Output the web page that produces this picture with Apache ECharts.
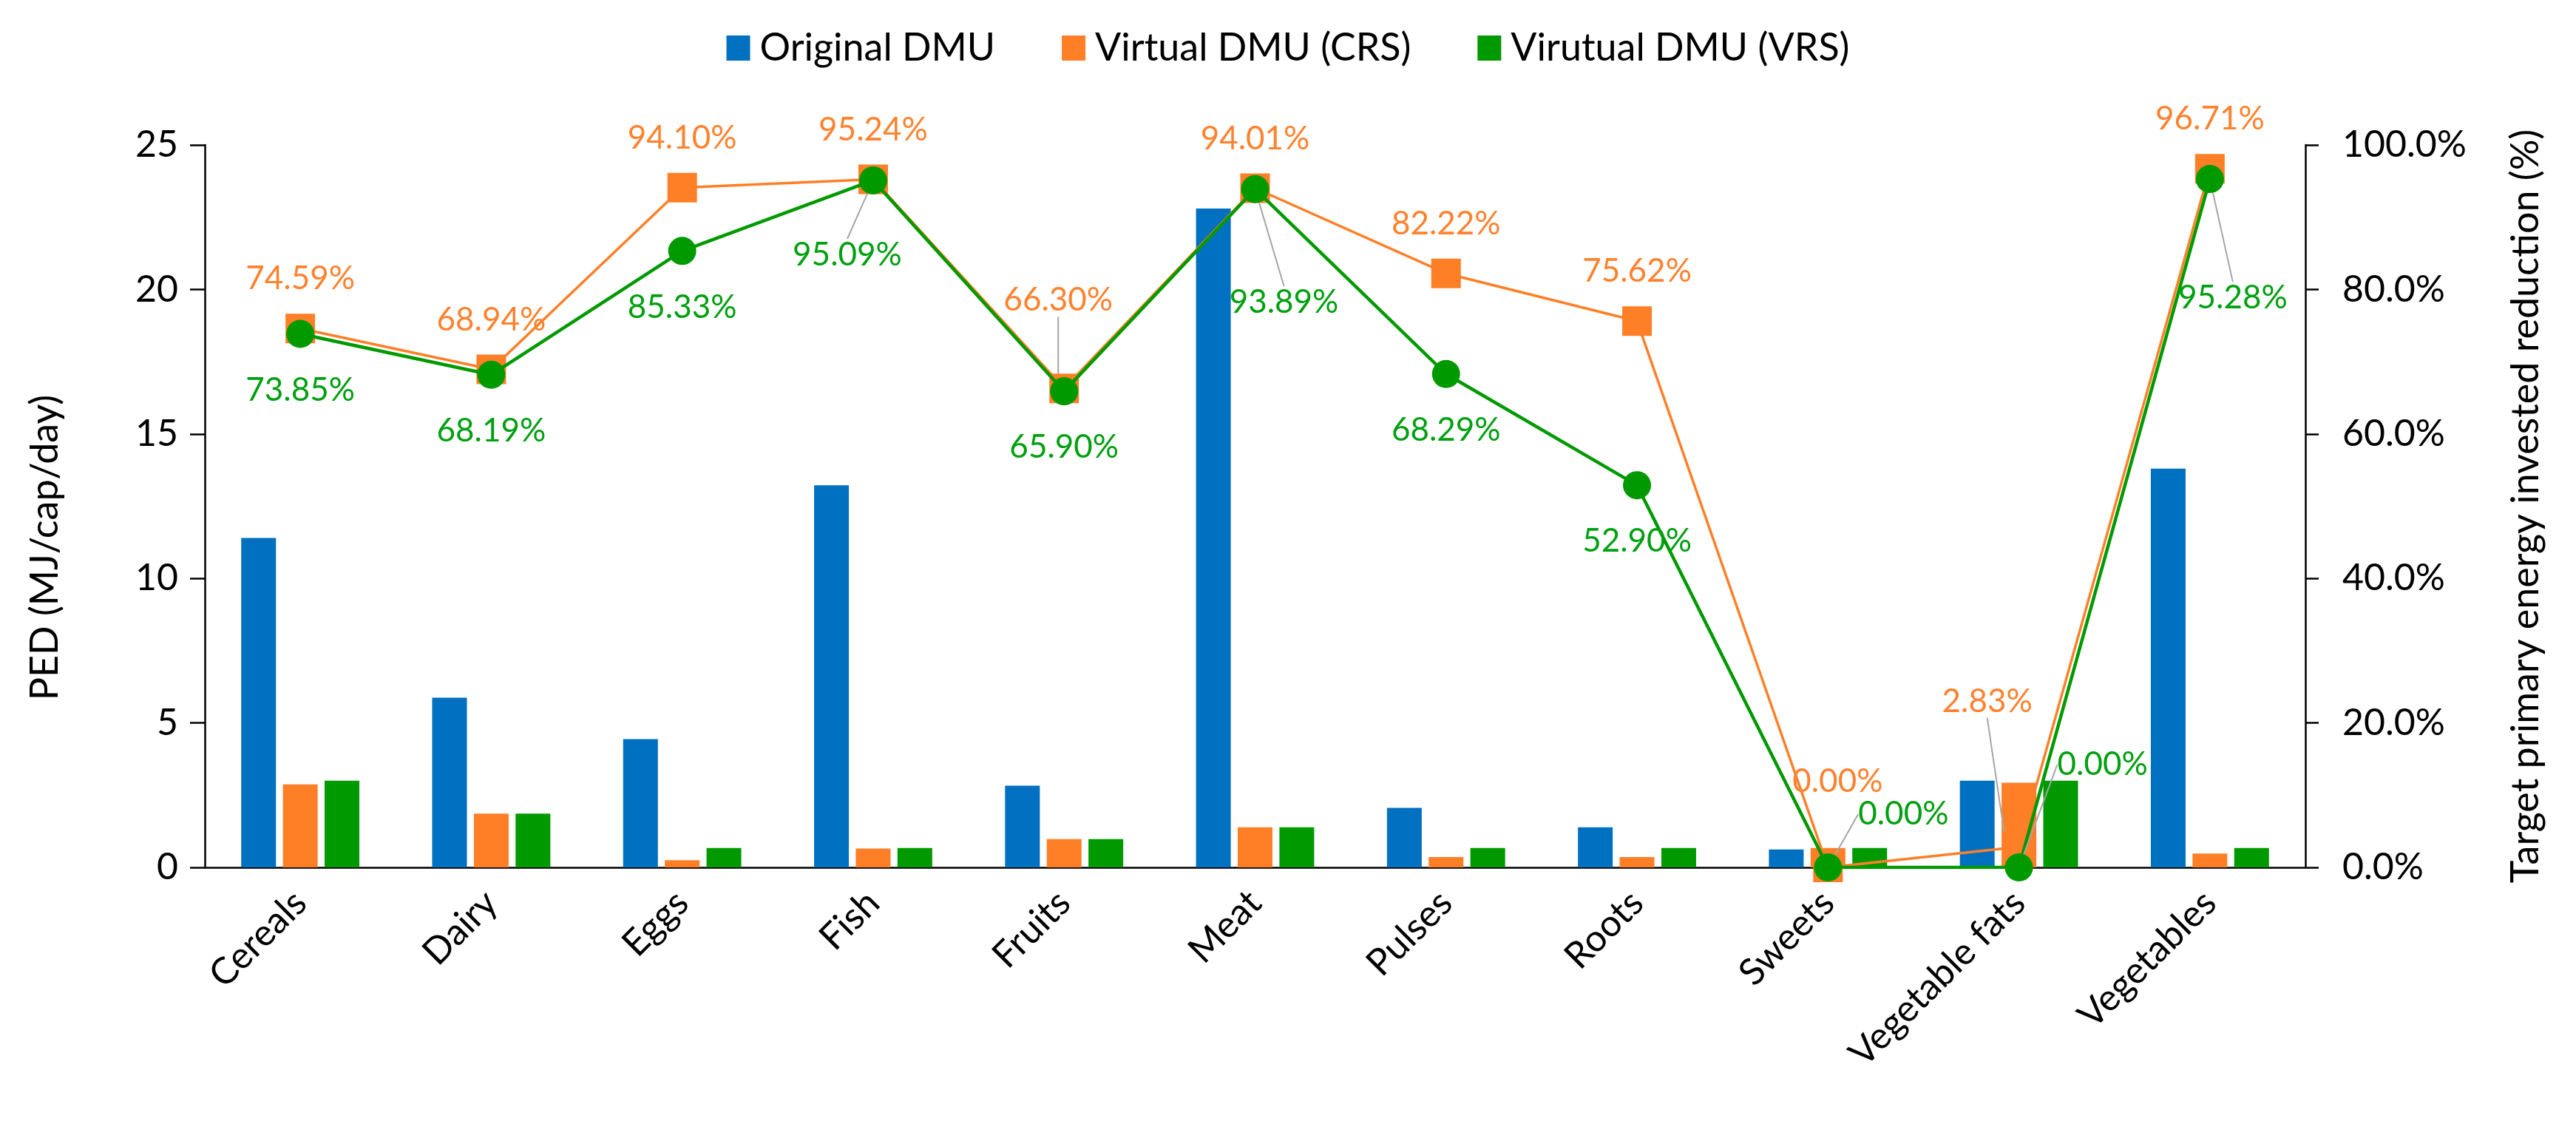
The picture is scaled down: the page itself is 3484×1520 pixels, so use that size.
<!DOCTYPE html>
<html>
<head>
<meta charset="utf-8">
<script src="https://cdn.jsdelivr.net/npm/echarts@6/dist/echarts.min.js"></script>
<style>
  html, body { margin: 0; padding: 0; background: #fff; }
  #main { width: 3484px; height: 1520px; }
</style>
</head>
<body>
<div id="main"></div>
<script>
// 类别
const categories = ['Cereals', 'Dairy', 'Eggs', 'Fish', 'Fruits', 'Meat', 'Pulses', 'Roots', 'Sweets', 'Vegetable fats', 'Vegetables'];
// PED (MJ/cap/day)
const originalPed = [11.4, 5.87, 4.44, 13.22, 2.83, 22.8, 2.06, 1.39, 0.62, 3.0, 13.8];
const crsPed = [2.87, 1.86, 0.25, 0.65, 0.98, 1.39, 0.36, 0.36, 0.67, 2.93, 0.48];
const vrsPed = [3.0, 1.86, 0.67, 0.67, 0.98, 1.39, 0.67, 0.67, 0.67, 3.0, 0.67];
// 减少比例 (%)
const crsReduction = [74.59, 68.94, 94.10, 95.24, 66.30, 94.01, 82.22, 75.62, 0.00, 2.83, 96.71];
const vrsReduction = [73.85, 68.19, 85.33, 95.09, 65.90, 93.89, 68.29, 52.90, 0.00, 0.00, 95.28];
const seriesNames = ['Original DMU', 'Virtual DMU (CRS)', 'Virutual DMU (VRS)'];

const BLUE = '#0070C0';
const ORANGE = '#FF7F27';
const GREEN = '#009A00';
const FONT = 'Lato';

// 标签偏移 [dx, dy, 引线]
const crsLabelMove = {
  4: [-8, -52, true],
  8: [13, -49, false],
  9: [-43, -130, true]
};
const vrsLabelMove = {
  3: [-35, 25, true],
  5: [39, 77, true],
  8: [102, -148, true],
  9: [113, -215, true],
  10: [31, 85, true]
};

const makeLineData = (vals, moves) => vals.map((v, i) => ({
  value: v,
  labelLine: { show: !!(moves[i] && moves[i][2]) }
}));

const myChart = echarts.init(document.getElementById('main'));

myChart.setOption({
  backgroundColor: '#fff',
  textStyle: { fontFamily: FONT },
  legend: {
    top: 34,
    left: 'center',
    itemWidth: 32,
    itemHeight: 34,
    itemGap: 90,
    icon: 'rect',
    textStyle: { fontSize: 52, color: '#000', fontFamily: FONT, padding: [0, 0, 0, 8] },
    data: seriesNames
  },
  grid: { left: 277, right: 366, top: 196, bottom: 347 },
  xAxis: {
    type: 'category',
    data: categories,
    axisLine: { lineStyle: { color: '#000', width: 2.5 } },
    axisTick: { show: false },
    axisLabel: {
      rotate: 45,
      fontSize: 50,
      color: '#000',
      margin: 40,
      interval: 0,
      fontFamily: FONT
    }
  },
  yAxis: [
    {
      type: 'value',
      min: 0,
      max: 25,
      interval: 5,
      name: 'PED (MJ/cap/day)',
      nameLocation: 'middle',
      nameGap: 190,
      nameRotate: 90,
      nameTextStyle: { fontSize: 52, color: '#000', fontFamily: FONT, padding: [0, 112, 0, 0] },
      axisLine: { show: true, lineStyle: { color: '#000', width: 2.5 } },
      axisTick: { show: true, length: 20, lineStyle: { color: '#000', width: 2.5 } },
      axisLabel: { fontSize: 50, color: '#000', margin: 36, fontFamily: FONT },
      splitLine: { show: false }
    },
    {
      type: 'value',
      min: 0,
      max: 100,
      interval: 20,
      position: 'right',
      name: 'Target primary energy invested reduction (%)',
      nameLocation: 'middle',
      nameGap: 272,
      nameRotate: 90,
      nameTextStyle: { fontSize: 52, color: '#000', fontFamily: FONT },
      axisLine: { show: true, lineStyle: { color: '#000', width: 2.5 } },
      axisTick: { show: true, length: 18, lineStyle: { color: '#000', width: 2.5 } },
      axisLabel: {
        fontSize: 50,
        color: '#000',
        margin: 50,
        fontFamily: FONT,
        formatter: (v) => v.toFixed(1) + '%'
      },
      splitLine: { show: false }
    }
  ],
  series: [
    {
      name: seriesNames[0],
      type: 'bar',
      data: originalPed,
      barWidth: 47,
      barGap: '20%',
      itemStyle: { color: BLUE }
    },
    {
      name: seriesNames[1],
      type: 'bar',
      data: crsPed,
      barWidth: 47,
      barGap: '20%',
      itemStyle: { color: ORANGE }
    },
    {
      name: seriesNames[2],
      type: 'bar',
      data: vrsPed,
      barWidth: 47,
      barGap: '20%',
      itemStyle: { color: GREEN }
    },
    {
      name: seriesNames[1],
      type: 'line',
      yAxisIndex: 1,
      data: makeLineData(crsReduction, crsLabelMove),
      symbol: 'rect',
      symbolSize: 40,
      lineStyle: { color: ORANGE, width: 3.5 },
      itemStyle: { color: ORANGE },
      label: {
        show: true,
        position: 'top',
        distance: 25,
        fontSize: 44,
        color: '#FF822E',
        fontFamily: FONT,
        formatter: (p) => p.value.toFixed(2) + '%'
      },
      labelLine: { show: false, lineStyle: { color: '#A6A6A6', width: 2 } },
      labelLayout: (p) => {
        const m = crsLabelMove[p.dataIndex];
        return m ? { dx: m[0], dy: m[1] } : {};
      },
      z: 5
    },
    {
      name: seriesNames[2],
      type: 'line',
      yAxisIndex: 1,
      data: makeLineData(vrsReduction, vrsLabelMove),
      symbol: 'circle',
      symbolSize: 38,
      lineStyle: { color: GREEN, width: 4.5 },
      itemStyle: { color: GREEN },
      label: {
        show: true,
        position: 'bottom',
        distance: 35,
        fontSize: 44,
        color: '#00A010',
        fontFamily: FONT,
        formatter: (p) => p.value.toFixed(2) + '%'
      },
      labelLine: { show: false, lineStyle: { color: '#A6A6A6', width: 2 } },
      labelLayout: (p) => {
        const m = vrsLabelMove[p.dataIndex];
        return m ? { dx: m[0], dy: m[1] } : {};
      },
      z: 6
    }
  ]
});
</script>
</body>
</html>
